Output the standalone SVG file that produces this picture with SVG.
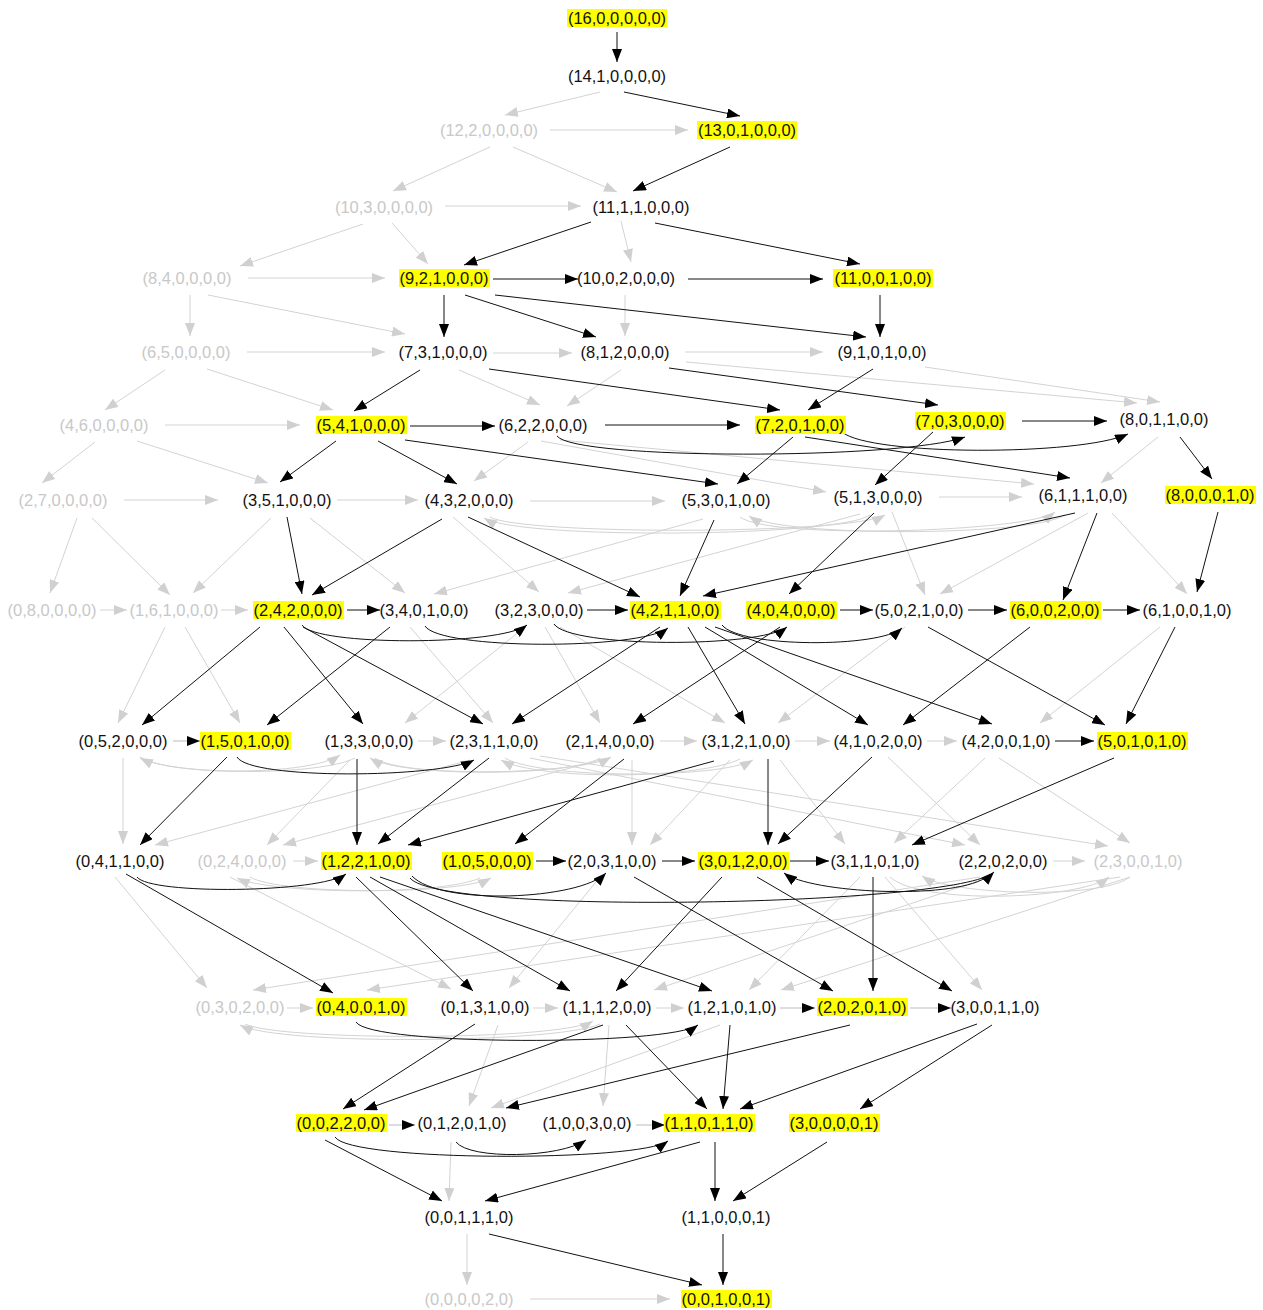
<svg xmlns="http://www.w3.org/2000/svg" width="1263" height="1310" viewBox="0 0 1263 1310">
<style>
  text { font-family: "Liberation Sans", Arial, sans-serif; font-size: 16.5px; text-anchor: middle; }
  .t { fill: #111; }
  .g { fill: #c8c8c8; }
  .hl { fill: #ffff00; }
  .e { fill: none; stroke: #111; stroke-width: 1; marker-end: url(#ab); }
  .eg { fill: none; stroke: #d3d3d3; stroke-width: 1; marker-end: url(#ag); }
  .em { fill: none; stroke: #bbbbbb; stroke-width: 1; marker-end: url(#ab); }
</style>
<defs>
  <marker id="ab" viewBox="0 0 13 10" refX="13" refY="5" markerWidth="13" markerHeight="10" markerUnits="userSpaceOnUse" orient="auto"><path d="M0,0 L13,5 L0,10 z" fill="#000"/></marker>
  <marker id="ag" viewBox="0 0 13 10" refX="13" refY="5" markerWidth="13" markerHeight="10" markerUnits="userSpaceOnUse" orient="auto"><path d="M0,0 L13,5 L0,10 z" fill="#d0d0d0"/></marker>
</defs>
<rect width="1263" height="1310" fill="#fff"/>

<g id="edges">
  <!-- inactive transitions -->
  <path class="eg" d="M600,92 L505,115"/>
  <path class="eg" d="M550,130 L688,130"/>
  <path class="eg" d="M490,147 L393,191"/>
  <path class="eg" d="M513,147 L617,192"/>
  <path class="eg" d="M445,206 L581,206"/>
  <path class="eg" d="M363,224 L240,266"/>
  <path class="eg" d="M392,223 L428,264"/>
  <path class="eg" d="M621,221 L631,262"/>
  <path class="eg" d="M248,278 L385,278"/>
  <path class="eg" d="M190,295 L190,336"/>
  <path class="eg" d="M208,295 L405,334"/>
  <path class="eg" d="M625,295 L625,336"/>
  <path class="eg" d="M247,352 L385,352"/>
  <path class="eg" d="M165,370 L105,410"/>
  <path class="eg" d="M207,369 L333,410"/>
  <path class="eg" d="M493,353 L572,353"/>
  <path class="eg" d="M685,352 L823,352"/>
  <path class="eg" d="M459,370 L540,405"/>
  <path class="eg" d="M621,370 L567,406"/>
  <path class="eg" d="M686,362 L1137,403"/>
  <path class="eg" d="M925,367 L1160,402"/>
  <path class="eg" d="M165,425 L300,425"/>
  <path class="eg" d="M95,442 L42,483"/>
  <path class="eg" d="M137,441 L268,483"/>
  <path class="eg" d="M528,442 L474,481"/>
  <path class="eg" d="M541,441 L826,492"/>
  <path class="eg" d="M560,440 L1034,484"/>
  <path class="eg" d="M1158,437 L1101,483"/>
  <path class="eg" d="M124,500 L218,500"/>
  <path class="eg" d="M337,500 L418,500"/>
  <path class="eg" d="M530,501 L665,501"/>
  <path class="eg" d="M939,497 L1022,497"/>
  <path class="eg" d="M77,518 L50,593"/>
  <path class="eg" d="M92,518 L170,595"/>
  <path class="eg" d="M271,518 L193,593"/>
  <path class="eg" d="M310,518 L405,593"/>
  <path class="eg" d="M453,517 L539,592"/>
  <path class="eg" d="M703,519 L434,594"/>
  <path class="eg" d="M860,514 L568,593"/>
  <path class="eg" d="M892,512 L925,595"/>
  <path class="eg" d="M1088,513 L940,594"/>
  <path class="eg" d="M1112,513 L1187,594"/>
  <path class="eg" d="M490,517 C520,535 850,535 885,515"/>
  <path class="eg" d="M870,515 C840,537 520,540 484,518"/>
  <path class="eg" d="M740,517 C770,540 1030,532 1055,512"/>
  <path class="eg" d="M1065,515 C1030,537 780,537 749,516"/>
  <path class="eg" d="M100,610 L127,610"/>
  <path class="eg" d="M221,610 L248,610"/>
  <path class="eg" d="M165,627 L118,723"/>
  <path class="eg" d="M185,627 L240,723"/>
  <path class="eg" d="M410,627 L493,723"/>
  <path class="eg" d="M525,627 L405,723"/>
  <path class="eg" d="M545,627 L600,723"/>
  <path class="eg" d="M560,627 L725,723"/>
  <path class="eg" d="M905,627 L778,723"/>
  <path class="eg" d="M1160,627 L1040,723"/>
  <path class="eg" d="M418,741 L446,741"/>
  <path class="eg" d="M660,741 L697,741"/>
  <path class="eg" d="M795,741 L830,741"/>
  <path class="eg" d="M927,741 L957,741"/>
  <path class="eg" d="M140,757 C170,776 310,776 340,755"/>
  <path class="eg" d="M355,758 C320,776 175,776 140,758"/>
  <path class="eg" d="M375,758 C400,778 580,775 611,757"/>
  <path class="eg" d="M600,758 C570,777 400,777 370,758"/>
  <path class="eg" d="M505,758 C540,779 720,779 753,760"/>
  <path class="eg" d="M740,759 C700,779 540,781 501,760"/>
  <path class="eg" d="M123,758 L123,844"/>
  <path class="eg" d="M350,760 L267,845"/>
  <path class="eg" d="M470,760 L155,845"/>
  <path class="eg" d="M600,760 L283,845"/>
  <path class="eg" d="M632,760 L632,845"/>
  <path class="eg" d="M730,760 L650,845"/>
  <path class="eg" d="M780,760 L845,844"/>
  <path class="eg" d="M530,758 L965,845"/>
  <path class="eg" d="M540,756 L1108,846"/>
  <path class="eg" d="M888,757 L980,845"/>
  <path class="eg" d="M999,758 L1130,843"/>
  <path class="eg" d="M985,758 L894,843"/>
  <path class="eg" d="M293,861 L318,861"/>
  <path class="eg" d="M1053,861 L1085,861"/>
  <path class="eg" d="M250,877 C280,895 460,895 491,878"/>
  <path class="eg" d="M480,878 C440,896 270,894 237,878"/>
  <path class="eg" d="M1130,877 C1100,900 950,895 922,876"/>
  <path class="eg" d="M890,877 C920,905 1080,900 1109,877"/>
  <path class="eg" d="M115,877 L207,988"/>
  <path class="eg" d="M230,877 L451,989"/>
  <path class="eg" d="M600,877 L509,988"/>
  <path class="eg" d="M980,877 L253,990"/>
  <path class="eg" d="M990,877 L654,990"/>
  <path class="eg" d="M1120,877 L367,990"/>
  <path class="eg" d="M1130,877 L781,990"/>
  <path class="eg" d="M860,877 L749,990"/>
  <path class="eg" d="M885,877 L982,990"/>
  <path class="eg" d="M287,1008 L313,1008"/>
  <path class="eg" d="M533,1008 L558,1008"/>
  <path class="eg" d="M656,1008 L684,1008"/>
  <path class="eg" d="M245,1024 C280,1041 560,1041 593,1021"/>
  <path class="eg" d="M600,1024 C560,1043 280,1046 240,1025"/>
  <path class="eg" d="M498,1025 L469,1106"/>
  <path class="eg" d="M609,1025 L603,1106"/>
  <path class="eg" d="M720,1025 L491,1108"/>
  <path class="eg" d="M451,1142 L449,1201"/>
  <path class="eg" d="M467,1234 L467,1285"/>
  <path class="eg" d="M530,1299 L670,1299"/>

  <!-- active transitions -->
  <path class="e" d="M617,32 L617,62"/>
  <path class="e" d="M624,92 L740,116"/>
  <path class="e" d="M730,147 L633,191"/>
  <path class="e" d="M591,222 L464,265"/>
  <path class="e" d="M655,223 L860,264"/>
  <path class="e" d="M493,279 L578,279"/>
  <path class="e" d="M688,279 L823,279"/>
  <path class="e" d="M444,295 L444,337"/>
  <path class="e" d="M465,295 L596,337"/>
  <path class="e" d="M495,295 L866,337"/>
  <path class="e" d="M880,295 L880,337"/>
  <path class="e" d="M420,370 L354,411"/>
  <path class="e" d="M489,369 L780,410"/>
  <path class="e" d="M669,368 L938,405"/>
  <path class="e" d="M873,369 L808,410"/>
  <path class="e" d="M410,426 L495,426"/>
  <path class="e" d="M605,425 L740,425"/>
  <path class="e" d="M1022,421 L1107,421"/>
  <path class="e" d="M557,436 C575,460 900,460 965,437"/>
  <path class="e" d="M842,432 C870,456 1080,456 1128,434"/>
  <path class="e" d="M805,437 L1070,478"/>
  <path class="e" d="M793,437 L737,484"/>
  <path class="e" d="M405,440 L718,484"/>
  <path class="e" d="M336,441 L280,482"/>
  <path class="e" d="M378,441 L457,484"/>
  <path class="e" d="M933,432 L875,485"/>
  <path class="e" d="M1180,437 L1212,479"/>
  <path class="e" d="M287,517 L302,594"/>
  <path class="e" d="M442,519 L312,595"/>
  <path class="e" d="M468,517 L640,597"/>
  <path class="e" d="M714,520 L680,596"/>
  <path class="e" d="M1075,513 L703,596"/>
  <path class="e" d="M874,513 L789,594"/>
  <path class="e" d="M1097,513 L1063,600"/>
  <path class="e" d="M1218,512 L1197,592"/>
  <path class="e" d="M347,610 L380,610"/>
  <path class="e" d="M587,610 L628,610"/>
  <path class="e" d="M840,610 L873,610"/>
  <path class="e" d="M968,610 L1007,610"/>
  <path class="e" d="M1103,610 L1140,610"/>
  <path class="e" d="M302,625 C315,646 500,646 527,625"/>
  <path class="e" d="M425,626 C440,650 640,650 668,628"/>
  <path class="e" d="M554,624 C570,648 760,648 787,627"/>
  <path class="e" d="M722,625 C740,648 880,648 902,628"/>
  <path class="e" d="M260,627 L142,725"/>
  <path class="e" d="M390,627 L267,725"/>
  <path class="e" d="M284,627 L363,724"/>
  <path class="e" d="M303,627 L483,724"/>
  <path class="e" d="M660,627 L512,724"/>
  <path class="e" d="M780,627 L633,724"/>
  <path class="e" d="M688,627 L745,724"/>
  <path class="e" d="M705,627 L868,725"/>
  <path class="e" d="M1030,627 L903,725"/>
  <path class="e" d="M715,627 L992,724"/>
  <path class="e" d="M928,627 L1105,725"/>
  <path class="e" d="M1175,627 L1126,724"/>
  <path class="em" d="M173,741 L200,741"/>
  <path class="e" d="M237,757 C250,780 440,778 474,760"/>
  <path class="e" d="M227,757 L140,845"/>
  <path class="e" d="M357,759 L357,845"/>
  <path class="e" d="M489,758 L378,844"/>
  <path class="e" d="M714,761 L408,845"/>
  <path class="e" d="M624,759 L515,844"/>
  <path class="e" d="M768,759 L768,845"/>
  <path class="e" d="M872,757 L778,844"/>
  <path class="e" d="M1114,758 L912,845"/>
  <path class="e" d="M1055,741 L1094,741"/>
  <path class="e" d="M536,861 L566,861"/>
  <path class="e" d="M662,861 L695,861"/>
  <path class="e" d="M790,861 L829,861"/>
  <path class="e" d="M137,877 C150,895 320,893 346,874"/>
  <path class="e" d="M412,876 C440,906 580,900 606,873"/>
  <path class="e" d="M410,878 C440,916 960,906 994,872"/>
  <path class="e" d="M985,878 C950,900 810,893 784,873"/>
  <path class="e" d="M126,874 L333,993"/>
  <path class="e" d="M356,877 L473,991"/>
  <path class="e" d="M370,877 L570,991"/>
  <path class="e" d="M380,877 L712,991"/>
  <path class="e" d="M722,877 L616,991"/>
  <path class="e" d="M634,877 L833,991"/>
  <path class="e" d="M873,877 L873,991"/>
  <path class="e" d="M757,877 L952,991"/>
  <path class="em" d="M780,1008 L815,1008"/>
  <path class="em" d="M910,1008 L951,1008"/>
  <path class="e" d="M356,1022 C370,1046 670,1046 698,1025"/>
  <path class="e" d="M475,1024 L343,1109"/>
  <path class="e" d="M603,1025 L364,1110"/>
  <path class="e" d="M850,1025 L506,1108"/>
  <path class="e" d="M626,1025 L707,1109"/>
  <path class="e" d="M730,1025 L723,1109"/>
  <path class="e" d="M977,1024 L740,1109"/>
  <path class="e" d="M992,1025 L860,1109"/>
  <path class="em" d="M389,1125 L415,1125"/>
  <path class="em" d="M636,1125 L665,1125"/>
  <path class="e" d="M456,1142 C470,1160 560,1158 586,1140"/>
  <path class="e" d="M335,1137 C350,1162 640,1162 668,1141"/>
  <path class="e" d="M325,1140 L442,1201"/>
  <path class="e" d="M700,1142 L485,1201"/>
  <path class="e" d="M715,1142 L715,1201"/>
  <path class="e" d="M827,1142 L733,1201"/>
  <path class="e" d="M489,1234 L702,1285"/>
  <path class="e" d="M723,1234 L723,1285"/>
</g>

<!-- states, one group each -->
<g id="s16-0-0-0-0-0"><rect class="hl" x="567" y="9" width="100" height="18"/><text class="t" x="617" y="24">(16,0,0,0,0,0)</text></g>
<g id="s14-1-0-0-0-0"><text class="t" x="617" y="82">(14,1,0,0,0,0)</text></g>
<g id="s12-2-0-0-0-0"><text class="g" x="489" y="136">(12,2,0,0,0,0)</text></g>
<g id="s13-0-1-0-0-0"><rect class="hl" x="697" y="121" width="100" height="18"/><text class="t" x="747" y="136">(13,0,1,0,0,0)</text></g>
<g id="s10-3-0-0-0-0"><text class="g" x="384" y="213">(10,3,0,0,0,0)</text></g>
<g id="s11-1-1-0-0-0"><text class="t" x="641" y="213">(11,1,1,0,0,0)</text></g>
<g id="s8-4-0-0-0-0"><text class="g" x="187" y="284">(8,4,0,0,0,0)</text></g>
<g id="s9-2-1-0-0-0"><rect class="hl" x="399" y="269" width="91" height="18"/><text class="t" x="444" y="284">(9,2,1,0,0,0)</text></g>
<g id="s10-0-2-0-0-0"><text class="t" x="626" y="284">(10,0,2,0,0,0)</text></g>
<g id="s11-0-0-1-0-0"><rect class="hl" x="833" y="269" width="100" height="18"/><text class="t" x="883" y="284">(11,0,0,1,0,0)</text></g>
<g id="s6-5-0-0-0-0"><text class="g" x="186" y="358">(6,5,0,0,0,0)</text></g>
<g id="s7-3-1-0-0-0"><text class="t" x="443" y="358">(7,3,1,0,0,0)</text></g>
<g id="s8-1-2-0-0-0"><text class="t" x="625" y="358">(8,1,2,0,0,0)</text></g>
<g id="s9-1-0-1-0-0"><text class="t" x="882" y="358">(9,1,0,1,0,0)</text></g>
<g id="s4-6-0-0-0-0"><text class="g" x="104" y="431">(4,6,0,0,0,0)</text></g>
<g id="s5-4-1-0-0-0"><rect class="hl" x="316" y="416" width="91" height="18"/><text class="t" x="361" y="431">(5,4,1,0,0,0)</text></g>
<g id="s6-2-2-0-0-0"><text class="t" x="543" y="431">(6,2,2,0,0,0)</text></g>
<g id="s7-2-0-1-0-0"><rect class="hl" x="755" y="416" width="91" height="18"/><text class="t" x="800" y="431">(7,2,0,1,0,0)</text></g>
<g id="s7-0-3-0-0-0"><rect class="hl" x="915" y="412" width="91" height="18"/><text class="t" x="960" y="427">(7,0,3,0,0,0)</text></g>
<g id="s8-0-1-1-0-0"><text class="t" x="1164" y="425">(8,0,1,1,0,0)</text></g>
<g id="s2-7-0-0-0-0"><text class="g" x="63" y="506">(2,7,0,0,0,0)</text></g>
<g id="s3-5-1-0-0-0"><text class="t" x="287" y="506">(3,5,1,0,0,0)</text></g>
<g id="s4-3-2-0-0-0"><text class="t" x="469" y="506">(4,3,2,0,0,0)</text></g>
<g id="s5-3-0-1-0-0"><text class="t" x="726" y="506">(5,3,0,1,0,0)</text></g>
<g id="s5-1-3-0-0-0"><text class="t" x="878" y="503">(5,1,3,0,0,0)</text></g>
<g id="s6-1-1-1-0-0"><text class="t" x="1083" y="501">(6,1,1,1,0,0)</text></g>
<g id="s8-0-0-0-1-0"><rect class="hl" x="1165" y="486" width="91" height="18"/><text class="t" x="1210" y="501">(8,0,0,0,1,0)</text></g>
<g id="s0-8-0-0-0-0"><text class="g" x="52" y="616">(0,8,0,0,0,0)</text></g>
<g id="s1-6-1-0-0-0"><text class="g" x="174" y="616">(1,6,1,0,0,0)</text></g>
<g id="s2-4-2-0-0-0"><rect class="hl" x="253" y="601" width="91" height="18"/><text class="t" x="298" y="616">(2,4,2,0,0,0)</text></g>
<g id="s3-4-0-1-0-0"><text class="t" x="424" y="616">(3,4,0,1,0,0)</text></g>
<g id="s3-2-3-0-0-0"><text class="t" x="539" y="616">(3,2,3,0,0,0)</text></g>
<g id="s4-2-1-1-0-0"><rect class="hl" x="630" y="601" width="91" height="18"/><text class="t" x="675" y="616">(4,2,1,1,0,0)</text></g>
<g id="s4-0-4-0-0-0"><rect class="hl" x="746" y="601" width="91" height="18"/><text class="t" x="791" y="616">(4,0,4,0,0,0)</text></g>
<g id="s5-0-2-1-0-0"><text class="t" x="919" y="616">(5,0,2,1,0,0)</text></g>
<g id="s6-0-0-2-0-0"><rect class="hl" x="1010" y="601" width="91" height="18"/><text class="t" x="1055" y="616">(6,0,0,2,0,0)</text></g>
<g id="s6-1-0-0-1-0"><text class="t" x="1187" y="616">(6,1,0,0,1,0)</text></g>
<g id="s0-5-2-0-0-0"><text class="t" x="123" y="747">(0,5,2,0,0,0)</text></g>
<g id="s1-5-0-1-0-0"><rect class="hl" x="200" y="732" width="91" height="18"/><text class="t" x="245" y="747">(1,5,0,1,0,0)</text></g>
<g id="s1-3-3-0-0-0"><text class="t" x="369" y="747">(1,3,3,0,0,0)</text></g>
<g id="s2-3-1-1-0-0"><text class="t" x="494" y="747">(2,3,1,1,0,0)</text></g>
<g id="s2-1-4-0-0-0"><text class="t" x="610" y="747">(2,1,4,0,0,0)</text></g>
<g id="s3-1-2-1-0-0"><text class="t" x="746" y="747">(3,1,2,1,0,0)</text></g>
<g id="s4-1-0-2-0-0"><text class="t" x="878" y="747">(4,1,0,2,0,0)</text></g>
<g id="s4-2-0-0-1-0"><text class="t" x="1006" y="747">(4,2,0,0,1,0)</text></g>
<g id="s5-0-1-0-1-0"><rect class="hl" x="1097" y="732" width="91" height="18"/><text class="t" x="1142" y="747">(5,0,1,0,1,0)</text></g>
<g id="s0-4-1-1-0-0"><text class="t" x="120" y="867">(0,4,1,1,0,0)</text></g>
<g id="s0-2-4-0-0-0"><text class="g" x="242" y="867">(0,2,4,0,0,0)</text></g>
<g id="s1-2-2-1-0-0"><rect class="hl" x="321" y="852" width="91" height="18"/><text class="t" x="366" y="867">(1,2,2,1,0,0)</text></g>
<g id="s1-0-5-0-0-0"><rect class="hl" x="442" y="852" width="91" height="18"/><text class="t" x="487" y="867">(1,0,5,0,0,0)</text></g>
<g id="s2-0-3-1-0-0"><text class="t" x="612" y="867">(2,0,3,1,0,0)</text></g>
<g id="s3-0-1-2-0-0"><rect class="hl" x="698" y="852" width="91" height="18"/><text class="t" x="743" y="867">(3,0,1,2,0,0)</text></g>
<g id="s3-1-1-0-1-0"><text class="t" x="875" y="867">(3,1,1,0,1,0)</text></g>
<g id="s2-2-0-2-0-0"><text class="t" x="1003" y="867">(2,2,0,2,0,0)</text></g>
<g id="s2-3-0-0-1-0"><text class="g" x="1138" y="867">(2,3,0,0,1,0)</text></g>
<g id="s0-3-0-2-0-0"><text class="g" x="240" y="1013">(0,3,0,2,0,0)</text></g>
<g id="s0-4-0-0-1-0"><rect class="hl" x="316" y="998" width="91" height="18"/><text class="t" x="361" y="1013">(0,4,0,0,1,0)</text></g>
<g id="s0-1-3-1-0-0"><text class="t" x="485" y="1013">(0,1,3,1,0,0)</text></g>
<g id="s1-1-1-2-0-0"><text class="t" x="607" y="1013">(1,1,1,2,0,0)</text></g>
<g id="s1-2-1-0-1-0"><text class="t" x="732" y="1013">(1,2,1,0,1,0)</text></g>
<g id="s2-0-2-0-1-0"><rect class="hl" x="817" y="998" width="91" height="18"/><text class="t" x="862" y="1013">(2,0,2,0,1,0)</text></g>
<g id="s3-0-0-1-1-0"><text class="t" x="995" y="1013">(3,0,0,1,1,0)</text></g>
<g id="s0-0-2-2-0-0"><rect class="hl" x="296" y="1114" width="91" height="18"/><text class="t" x="341" y="1129">(0,0,2,2,0,0)</text></g>
<g id="s0-1-2-0-1-0"><text class="t" x="462" y="1129">(0,1,2,0,1,0)</text></g>
<g id="s1-0-0-3-0-0"><text class="t" x="587" y="1129">(1,0,0,3,0,0)</text></g>
<g id="s1-1-0-1-1-0"><rect class="hl" x="664" y="1114" width="91" height="18"/><text class="t" x="709" y="1129">(1,1,0,1,1,0)</text></g>
<g id="s3-0-0-0-0-1"><rect class="hl" x="789" y="1114" width="91" height="18"/><text class="t" x="834" y="1129">(3,0,0,0,0,1)</text></g>
<g id="s0-0-1-1-1-0"><text class="t" x="469" y="1223">(0,0,1,1,1,0)</text></g>
<g id="s1-1-0-0-0-1"><text class="t" x="726" y="1223">(1,1,0,0,0,1)</text></g>
<g id="s0-0-0-0-2-0"><text class="g" x="469" y="1305">(0,0,0,0,2,0)</text></g>
<g id="s0-0-1-0-0-1"><rect class="hl" x="681" y="1290" width="91" height="18"/><text class="t" x="726" y="1305">(0,0,1,0,0,1)</text></g>
</svg>
